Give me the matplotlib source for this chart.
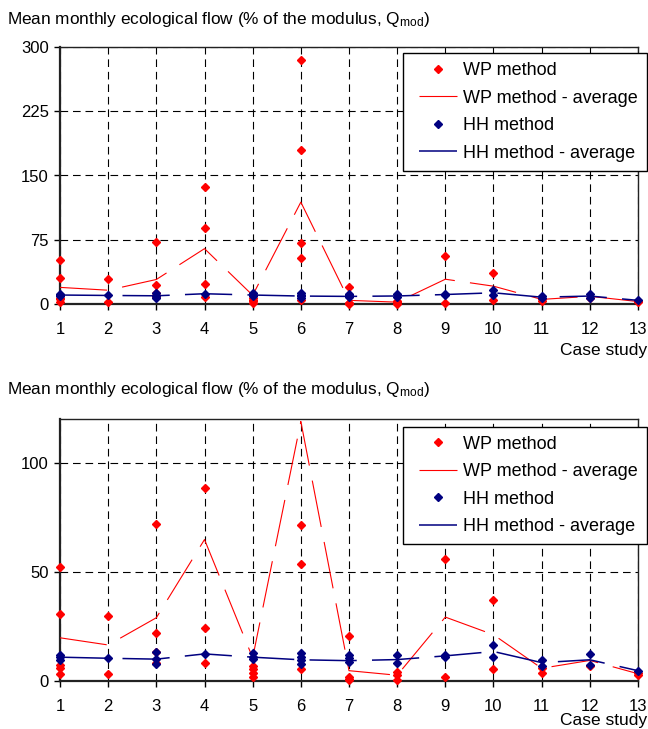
import matplotlib
matplotlib.use("Agg")
import matplotlib.pyplot as plt
from matplotlib.legend_handler import HandlerLine2D
import numpy as np

plt.rcParams['font.family'] = ['Liberation Sans', 'DejaVu Sans']
plt.rcParams['mathtext.fontset'] = 'custom'
plt.rcParams['mathtext.rm'] = 'Liberation Sans'
plt.rcParams['mathtext.it'] = 'Liberation Sans'
plt.rcParams['lines.scale_dashes'] = False

# ---- data ----
cases = list(range(1, 14))
xtick_labels = [str(c) for c in cases]

wp_points = [
    [52, 30.5, 7.3, 5.7, 3.1],
    [29.6, 3.1],
    [72, 21.9, 13.4, 8.0],
    [137, 88.6, 24.2, 8.0],
    [6.8, 5.2, 3.7, 1.8],
    [284, 180, 71.3, 53.5, 5.2],
    [20.7, 1.8, 1.0, 0.3],
    [4.1, 2.6, 0.3],
    [55.9, 1.8],
    [37.0, 5.4],
    [5.7, 3.6],
    [6.8],
    [2.6, 3.5],
]
wp_average = [19.7, 16.4, 28.9, 64.8, 10.5, 119, 4.6, 2.5, 29.2, 21.1, 5.7, 9.3, 3.2]

hh_points = [
    [11.9, 10.8, 9.3],
    [10.3],
    [13.0, 9.9, 7.7],
    [12.3],
    [12.6, 11.0, 9.8],
    [12.6, 11.0, 9.5, 7.7],
    [11.8, 10.3, 8.8],
    [11.8, 8.0],
    [11.9, 10.8],
    [16.4, 11.1],
    [9.6, 6.8],
    [12.3, 7.1],
    [4.6],
]
hh_average = [10.8, 10.3, 9.9, 12.3, 10.8, 9.6, 9.2, 9.7, 11.4, 13.4, 8.3, 9.6, 4.6]

title_text = r'Mean monthly ecological flow (% of the modulus, Q$_{\mathrm{mod}}$)'
xlabel_text = 'Case study'
labels = ['WP method', 'WP method - average', 'HH method', 'HH method - average']

top_yticks = [0, 75, 150, 225, 300]
bottom_yticks = [0, 50, 100]

RED = '#FF0000'
NAVY = '#000080'


class OffsetLineHandler(HandlerLine2D):
    """Draw the legend handle only in the right part of the handle box."""
    def __init__(self, frac=0.17, **kw):
        super().__init__(**kw)
        self.frac = frac

    def create_artists(self, legend, orig_handle, xdescent, ydescent,
                       width, height, fontsize, trans):
        off = width * self.frac
        return super().create_artists(legend, orig_handle, xdescent - off,
                                      ydescent, width - off, height,
                                      fontsize, trans)


def flatten(points, ymax):
    xs, ys = [], []
    for c, vals in zip(cases, points):
        for v in vals:
            if v <= ymax:
                xs.append(c)
                ys.append(v)
    return xs, ys


W, H = 648, 729
fig = plt.figure(figsize=(W / 100, H / 100), dpi=100)


def make_axes(rect_px, ylim, yticks, legend_top_px):
    l, t, r, b = rect_px
    ax = fig.add_axes([l / W, 1 - b / H, (r - l) / W, (b - t) / H])
    wx, wy = flatten(wp_points, ylim[1])
    hx, hy = flatten(hh_points, ylim[1])
    h1, = ax.plot(wx, wy, linestyle='none', marker='D', color=RED, markersize=4.2,
                  label=labels[0], zorder=3, clip_on=False)
    h2, = ax.plot(cases, wp_average, color=RED, linewidth=0.8, dashes=(34, 11),
                  label=labels[1], zorder=3)
    h3, = ax.plot(hx, hy, linestyle='none', marker='D', color=NAVY, markersize=4.4,
                  label=labels[2], zorder=4, clip_on=False)
    h4, = ax.plot(cases, hh_average, color=NAVY, linewidth=1.1, dashes=(34, 11),
                  label=labels[3], zorder=4)
    ax.set_xlim(1, 13)
    ax.set_ylim(*ylim)
    ax.set_xticks(cases)
    ax.set_xticklabels(xtick_labels)
    ax.set_yticks(yticks)
    ax.grid(True, color='black', linewidth=0.8, dashes=(5.5, 3.5))
    ax.set_axisbelow(True)
    ax.tick_params(direction='out', length=4, width=1, labelsize=12, pad=4)
    ax.tick_params(axis='x', pad=9)
    ax.spines['left'].set_linewidth(1.6)
    ax.spines['bottom'].set_linewidth(1.6)
    ax.spines['top'].set_linewidth(1.0)
    ax.spines['right'].set_linewidth(1.0)
    for s in ax.spines.values():
        s.set_color('#222222')
    hm = {h: OffsetLineHandler(frac=0.16) for h in (h1, h2, h3, h4)}
    leg = ax.legend(handles=[h1, h2, h3, h4],
                    loc='upper right', bbox_to_anchor=(647 / W, 1 - legend_top_px / H),
                    bbox_transform=fig.transFigure, fontsize=13,
                    frameon=True, fancybox=False, borderaxespad=0,
                    handlelength=2.5, handletextpad=0.35, labelspacing=0.58,
                    borderpad=0.5, handler_map=hm)
    leg.get_frame().set_edgecolor('black')
    leg.get_frame().set_linewidth(1.0)
    leg.get_frame().set_alpha(1)
    leg.set_zorder(10)
    return ax


ax1 = make_axes((60, 46.7, 638, 304.3), (0, 300), top_yticks, 53.3)
ax2 = make_axes((60, 419.3, 638, 680.7), (0, 120), bottom_yticks, 426.7)

fig.text(7 / W, 1 - 24 / H, title_text, fontsize=12.4, ha='left', va='baseline')
fig.text(7 / W, 1 - 394 / H, title_text, fontsize=12.4, ha='left', va='baseline')
fig.text(647.5 / W, 1 - 355 / H, xlabel_text, fontsize=12.5, ha='right', va='baseline')
fig.text(647.5 / W, 1 - 725 / H, xlabel_text, fontsize=12.5, ha='right', va='baseline')

fig.savefig('out.png', dpi=100)
